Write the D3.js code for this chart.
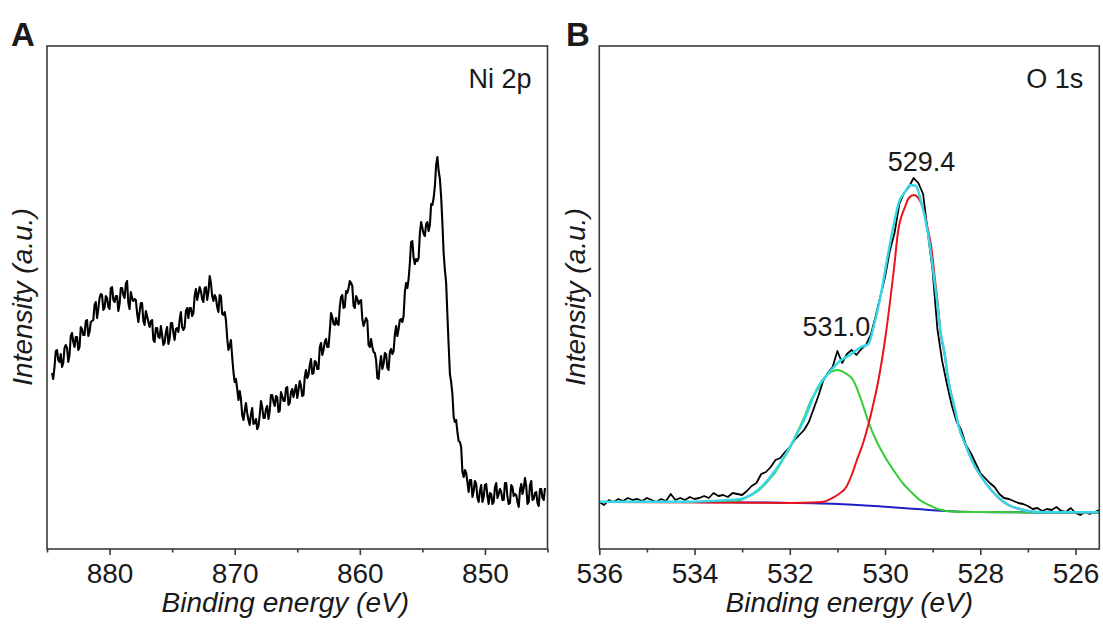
<!DOCTYPE html>
<html><head><meta charset="utf-8">
<script src="https://cdn.jsdelivr.net/npm/d3@7"></script>
<style>
body{margin:0;background:#fff}
svg{display:block}
text{font-family:"Liberation Sans",Arial,sans-serif;fill:#1a1a1a}
</style>
</head><body>
<svg id="c" width="1103" height="624"></svg>
<script>
// ---------- Panel A : Ni 2p (0.1 eV grid from 884.6 eV downwards) ----------
const niStart = 884.6, niStep = 0.1;
const niIntensity = [
176,170,182,198,199,189,187,195,182,186,201,204,201,187,194,213,216,207,202,212,
212,199,202,222,220,214,214,228,229,213,217,227,228,229,244,247,231,240,251,255,
254,239,241,253,251,242,240,261,262,249,247,253,253,238,245,261,261,254,251,265,
268,246,240,257,251,248,250,249,236,227,237,246,246,228,224,238,233,227,222,228,
229,209,207,221,221,212,211,223,214,204,206,217,222,205,210,226,226,216,209,220,
221,217,229,237,222,219,222,238,241,231,241,241,233,236,253,260,249,255,262,258,
250,247,261,262,249,257,273,266,253,248,254,251,242,237,254,253,235,234,237,229,
211,199,203,209,192,177,167,170,160,149,158,150,134,129,138,146,136,129,124,135,
141,125,126,130,120,123,134,148,142,131,131,140,143,130,138,154,154,147,143,153,
152,137,138,157,153,148,148,161,162,144,146,157,160,152,158,164,151,159,168,163,
153,154,172,179,171,174,184,190,175,176,188,187,180,180,202,206,194,199,207,210,
202,202,218,236,232,225,224,231,225,224,242,252,254,241,242,258,256,261,268,266,
263,243,241,253,250,245,248,249,230,223,227,231,228,204,202,210,202,197,196,189,
171,170,184,193,180,185,196,195,181,179,197,200,195,198,214,223,213,220,229,230,
227,233,257,266,261,270,286,307,308,291,285,290,288,291,316,327,321,315,313,325,
327,318,324,345,344,351,363,384,392,378,370,352,326,296,279,266,234,204,175,167,
155,132,127,129,117,108,107,102,77,72,79,76,67,57,69,69,52,58,68,65,
51,47,58,64,47,52,64,65,53,45,56,55,45,47,62,66,51,55,60,57,
49,49,66,66,52,45,46,64,62,53,55,54,47,42,59,65,55,61,71,63,
45,47,64,68,49,50,56,57,46,43,60,60,51,49,61];
const niEnergy = niIntensity.map((_, i) => +(niStart - niStep * i).toFixed(1));
const niMajorTicks = [880, 870, 860, 850];
const niMinorTicks = [885, 875, 865, 855, 845];

// ---------- Panel B : O 1s ----------
const oStart = 536.0, oStep = 0.1;
const oIntensity = [
47,44,49,47,50,48,51,49,50,48,
51,49,47,50,48,55,49,51,49,52,
50,51,53,51,56,53,54,52,56,55,
54,58,63,66,75,77,82,89,91,97,
102,109,114,119,127,140,153,168,176,182,
198,186,195,199,194,200,204,214,232,252,
272,298,316,345,356,362,371,366,355,316,
278,220,188,165,144,128,119,104,96,86,
76,71,66,62,55,51,50,48,46,45,
43,40,41,38,40,39,42,38,37,41,
36,34,37,35,37,39];
const oEnergy = oIntensity.map((_, i) => +(oStart - oStep * i).toFixed(1));

const bgEnergy = [536,535,534,533.5,533,532.5,532,531.5,531,530.5,530,529.5,529,528.5,528,527.5,527,526,525.5];
const bgValue  = [47,47,46.9,46.8,46.6,46.4,46.1,45.7,45,43.8,42.2,40.5,38.8,37.6,37,36.7,36.6,36.5,36.5];

const greenEnergy = [536,534,533.4,533.03,532.89,532.67,532.44,532.30,532.15,532.0,531.85,531.70,531.55,531.41,531.26,531.13,531.0,530.84,530.67,530.50,530.34,530.17,530.0,529.81,529.63,529.45,529.27,529.08,528.89,528.52,528,527,525.5];
const greenValue  = [47,46.9,47.5,49,52.3,58,69,77,89,101,116,131,149,160,172,177,179,176,169,149,126,107,92,78,66,57,49,44,40,37.3,37,36.6,36.5];

const redEnergy = [536,532,531.41,531.26,531.12,530.97,530.81,530.70,530.59,530.46,530.34,530.24,530.15,530.0,529.89,529.81,529.73,529.58,529.50,529.39,529.30,529.21,529.12,529.02,528.95,528.90,528.83,528.76,528.66,528.55,528.45,528.30,528.15,527.96,527.77,527.59,527.41,527.17,526.89,526.54,525.5];
const redValue  = [47,46.1,46.7,47.5,50.7,55,62.3,74,89,106,126,146,166,209,249,281,316,342,351,354,351,342,324,299,269,249,215,198,166,143,122,103,86,71,59,50,44,40,37.3,36.7,36.5];

const cyanEnergy = [536,534.08,533.47,533.03,532.67,532.30,532.0,531.70,531.41,531.18,530.97,530.74,530.5,530.35,530.23,530.11,529.92,529.69,529.58,529.47,529.35,529.25,529.10,529.0,528.91,528.83,528.76,528.66,528.55,528.45,528.30,528.15,527.96,527.77,527.59,527.41,527.17,526.89,526.33,525.5];
const cyanValue  = [47.3,47.3,48.5,50,59,79,102,129,162,176,187,194,202,205,224,249,299,349,357,364,363,349,316,282,249,216,199,166,144,122,103,86,71,59,50.5,44,40,37.3,36.7,36.7];

const oMajorTicks = [536, 534, 532, 530, 528, 526];
const oMinorTicks = [535, 533, 531, 529, 527];

const peakLabels = [{text: "529.4", e: 529.4, v: 378, dx: 8}, {text: "531.0", e: 531.0, v: 213, dx: -1}];

// ---------- drawing ----------
const svg = d3.select("#c");
const frameColor = "#3a3a3a";
const yDomain = [0, 503];
const plotTop = 46, plotBottom = 549;

function zip(a, b) { return a.map((d, i) => [d, b[i]]); }

function drawPanel(cfg) {
  const x = d3.scaleLinear().domain(cfg.xDomain).range(cfg.xRange);
  const y = d3.scaleLinear().domain(yDomain).range([plotBottom, plotTop]);
  const g = svg.append("g");

  cfg.series.forEach(s => {
    const line = d3.line().x(d => x(d[0])).y(d => y(d[1])).curve(s.curve || d3.curveLinear);
    g.append("path").datum(zip(s.e, s.v))
      .attr("fill", "none").attr("stroke", s.color)
      .attr("stroke-width", s.width).attr("stroke-linejoin", "round")
      .attr("d", line);
  });

  g.append("rect").attr("x", cfg.xRange[0]).attr("y", plotTop)
    .attr("width", cfg.xRange[1] - cfg.xRange[0]).attr("height", plotBottom - plotTop)
    .attr("fill", "none").attr("stroke", frameColor).attr("stroke-width", 1.6);

  const major = d3.axisBottom(x).tickValues(cfg.major).tickSize(6).tickPadding(8).tickFormat(d3.format("d"));
  const minor = d3.axisBottom(x).tickValues(cfg.minor).tickSize(3.5).tickFormat("");
  const ga = g.append("g").attr("transform", `translate(0,${plotBottom})`).call(major);
  const gm = g.append("g").attr("transform", `translate(0,${plotBottom})`).call(minor);
  [ga, gm].forEach(a => {
    a.select(".domain").remove();
    a.selectAll("line").attr("stroke", frameColor).attr("stroke-width", 1.6);
  });
  ga.selectAll("text").attr("font-size", 28).attr("fill", "#1a1a1a")
    .style("font-family", '"Liberation Sans", Arial, sans-serif');

  g.append("text").attr("x", (cfg.xRange[0] + cfg.xRange[1]) / 2 + cfg.xTitleShift).attr("y", 612)
    .attr("text-anchor", "middle").attr("font-size", 28).attr("font-style", "italic")
    .text("Binding energy (eV)");
  g.append("text").attr("transform", `translate(${cfg.yTitleX},297) rotate(-90)`)
    .attr("text-anchor", "middle").attr("font-size", 28).attr("font-style", "italic")
    .text("Intensity (a.u.)");
  g.append("text").attr("x", cfg.xRange[1] - 16).attr("y", 88)
    .attr("text-anchor", "end").attr("font-size", 27).text(cfg.label);
  g.append("text").attr("x", cfg.letterX).attr("y", 46)
    .attr("font-size", 33).attr("font-weight", "bold").attr("fill", "#000").text(cfg.letter);

  (cfg.peaks || []).forEach(p => {
    g.append("text").attr("x", x(p.e) + p.dx).attr("y", y(p.v))
      .attr("text-anchor", "middle").attr("font-size", 27).text(p.text);
  });
}

drawPanel({
  xDomain: [885, 845], xRange: [47, 547.5],
  major: niMajorTicks, minor: niMinorTicks,
  xTitleShift: -12, yTitleX: 32, letter: "A", letterX: 11, label: "Ni 2p",
  series: [{e: niEnergy, v: niIntensity, color: "#000", width: 2.1}]
});

drawPanel({
  xDomain: [536, 525.5], xRange: [599.3, 1099.3],
  major: oMajorTicks, minor: oMinorTicks,
  xTitleShift: 0, yTitleX: 585, letter: "B", letterX: 566, label: "O 1s",
  peaks: peakLabels,
  series: [
    {e: oEnergy, v: oIntensity, color: "#000", width: 1.8},
    {e: bgEnergy, v: bgValue, color: "#1f1fc8", width: 2, curve: d3.curveMonotoneX},
    {e: greenEnergy, v: greenValue, color: "#33cc33", width: 2, curve: d3.curveMonotoneX},
    {e: redEnergy, v: redValue, color: "#e8141c", width: 2, curve: d3.curveMonotoneX},
    {e: cyanEnergy, v: cyanValue, color: "#33d9ea", width: 2.4, curve: d3.curveMonotoneX}
  ]
});
</script>
</body></html>
